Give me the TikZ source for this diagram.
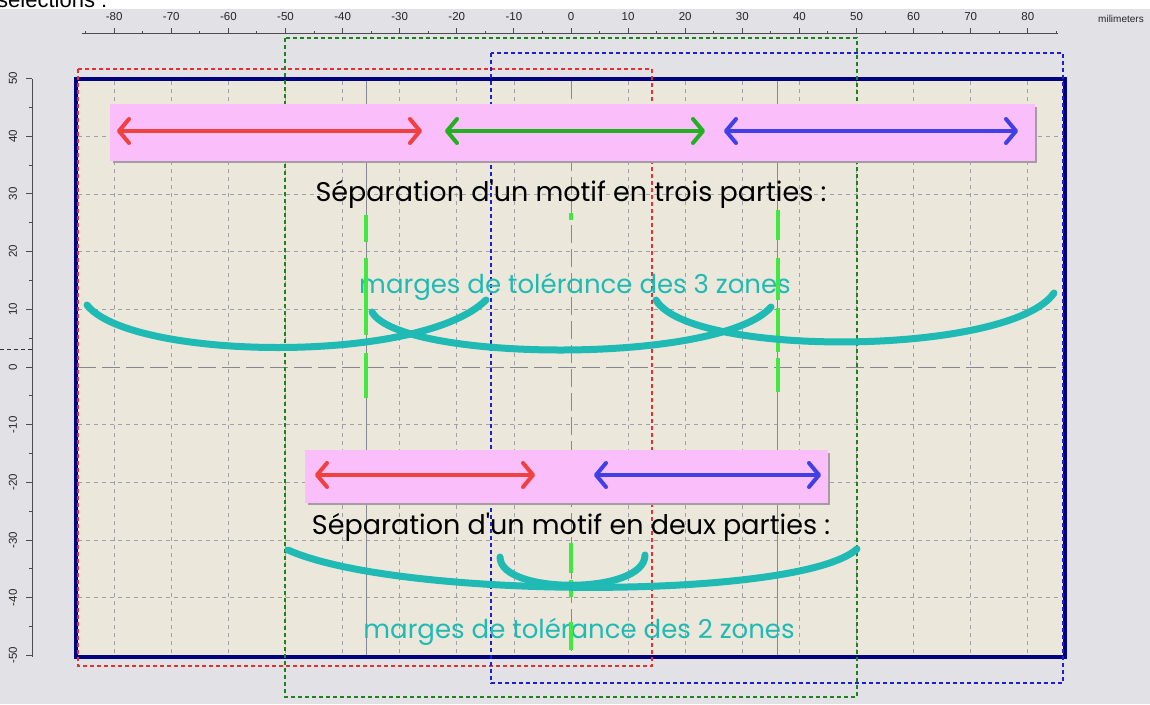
\documentclass[tikz,border=0pt]{standalone}
\usepackage{fontspec}
\setmainfont{Liberation Sans}
\newfontfamily\hand{Poppins}
\usetikzlibrary{arrows.meta}
\definecolor{bgout}{RGB}{225,225,230}
\definecolor{bgin}{RGB}{235,231,219}
\definecolor{navy}{RGB}{0,0,128}
\definecolor{pinkbar}{RGB}{250,190,250}
\definecolor{shadowc}{RGB}{165,155,165}
\definecolor{redarr}{RGB}{240,64,64}
\definecolor{greenarr}{RGB}{32,176,32}
\definecolor{bluearr}{RGB}{64,64,230}
\definecolor{tealc}{RGB}{32,186,180}
\definecolor{limec}{RGB}{64,232,64}
\definecolor{gridc}{RGB}{160,160,170}
\definecolor{selred}{RGB}{225,50,50}
\definecolor{selgreen}{RGB}{30,130,30}
\definecolor{selblue}{RGB}{30,30,210}
\tikzset{
  gridline/.style={gridc, line width=0.8pt, dash pattern=on 4pt off 4pt},
  axisline/.style={gridc!85!black, line width=0.9pt, dash pattern=on 18pt off 6pt},
  guideline/.style={gridc!85!black, line width=0.9pt},
  seldash/.style={line width=1.2pt, dash pattern=on 4pt off 3pt},
  arr/.style={line width=4pt, line cap=round,
    {Straight Barb[length=10pt,width=24pt,round]}-{Straight Barb[length=10pt,width=24pt,round]}},
  pinkbox/.style={fill=pinkbar, draw=none, inner sep=0pt},
  handtext/.style={font=\hand\fontsize{27}{29}\selectfont, inner sep=0pt},
  tealtext/.style={handtext, text=tealc, font=\hand\fontsize{26}{28}\selectfont},
  tealcurve/.style={tealc, line width=7pt, line cap=round},
  limedash/.style={limec, line width=4pt},
  rulerlbl/.style={font=\fontsize{11.5}{13}\selectfont, inner sep=0pt, text=black!85},
  tick/.style={black!70, line width=1pt}
}
\begin{document}
\begin{tikzpicture}[x=1pt,y=-1pt]
\useasboundingbox (0,0) rectangle (1150,704);
\clip (0,0) rectangle (1150,704);
\fill[bgout] (0,0) rectangle (1150,704);
\fill[white] (0,0) rectangle (1150,9);
\node[anchor=base west, font=\fontsize{22}{24}\selectfont, inner sep=0pt] (seltitle) at (-3,7) {sélections :};

% rulers
\draw[tick] (82,33.5) -- (1058,33.5);
\foreach \k in {-80,-70,...,80} {
  \draw[tick] ({571+5.71*\k},28) -- ({571+5.71*\k},33.5);
  \node[rulerlbl, name=rx\k] at ({571+5.71*\k},17) {\k};
}
\foreach \k in {-85,-75,...,85} {
  \draw[tick] ({571+5.71*\k},31) -- ({571+5.71*\k},33.5);
}
\node[rulerlbl, anchor=west, font=\fontsize{10}{12}\selectfont] (unit) at (1098,19) {milimeters};
\draw[tick] (32,79) -- (32,657);
\foreach \k in {-50,-40,...,50} {
  \draw[tick] (26,{367-5.77*\k}) -- (32,{367-5.77*\k});
  \node[rulerlbl, rotate=90, name=ry\k] at (13,{367-5.77*\k}) {\k};
}
\foreach \k in {-45,-35,...,45} {
  \draw[tick] (29,{367-5.77*\k}) -- (32,{367-5.77*\k});
}
\draw[black!80, line width=1pt, dash pattern=on 4pt off 3pt] (0,349) -- (32,349);

% working area
\fill[bgin] (76,79) rectangle (1065,657);
\foreach \k in {-80,-70,-60,-50,-40,-30,-20,-10,10,20,30,40,50,60,70,80} {
  \draw[gridline] ({571+5.71*\k},81) -- ({571+5.71*\k},655);
}
\foreach \k in {-40,-30,-20,-10,10,20,30,40} {
  \draw[gridline] (78,{367-5.77*\k}) -- (1063,{367-5.77*\k});
}
\draw[axisline] (571,81) -- (571,655);
\draw[axisline] (78,367) -- (1063,367);
\draw[guideline] (366,81) -- (366,655);
\draw[guideline] (777,81) -- (777,655);

\draw[navy, line width=4pt] (76,79) rectangle (1065,657);

% selections
\draw[selred, seldash] (78,69) rectangle (652,666);
\draw[selgreen, seldash] (285,38) rectangle (857,697);
\draw[selblue, seldash] (491,53) rectangle (1063,683);

% pink bars
\fill[shadowc] (113,107) rectangle (1037,163);
\node[pinkbox, minimum width=925pt, minimum height=57pt] (bar3) at (572.5,132.5) {};
\fill[shadowc] (308,453) rectangle (830,505);
\node[pinkbox, minimum width=523pt, minimum height=53pt] (bar2) at (566.5,476.5) {};

% arrows
\coordinate (r3a) at (117,131); \coordinate (r3b) at (422,131);
\coordinate (g3a) at (445,131); \coordinate (g3b) at (705,131);
\coordinate (b3a) at (724,131); \coordinate (b3b) at (1018,131);
\draw[arr, redarr] (r3a) -- (r3b);
\draw[arr, greenarr] (g3a) -- (g3b);
\draw[arr, bluearr] (b3a) -- (b3b);
\coordinate (r2a) at (315,475); \coordinate (r2b) at (535,475);
\coordinate (b2a) at (594,475); \coordinate (b2b) at (821,475);
\draw[arr, redarr] (r2a) -- (r2b);
\draw[arr, bluearr] (b2a) -- (b2b);

% texts
\node[handtext] (title3) at (571,194) {Séparation d'un motif en trois parties :};
\node[tealtext] (marg3) at (575,287) {marges de tolérance des 3 zones};
\node[handtext] (title2) at (571,527) {Séparation d'un motif en deux parties :};
\node[tealtext] (marg2) at (579,632) {marges de tolérance des 2 zones};

% green separators
\coordinate (gl1) at (366,215); \coordinate (gl2) at (366,398);
\draw[limedash, dash pattern=on 27pt off 16pt on 77pt off 18pt on 45pt] (gl1) -- (gl2);
\coordinate (gr1) at (778,210); \coordinate (gr2) at (778,392);
\draw[limedash, dash pattern=on 30pt off 18pt on 42pt off 8pt on 44pt off 6pt on 34pt] (gr1) -- (gr2);
\coordinate (gc1) at (571,213); \coordinate (gc2) at (571,220);
\draw[limedash] (gc1) -- (gc2);
\coordinate (gb1) at (571,543); \coordinate (gb2) at (571,650);
\draw[limedash, dash pattern=on 30pt off 7pt on 17pt off 25pt on 28pt] (gb1) -- (gb2);

% tolerance curves
\coordinate (c1a) at (87,305); \coordinate (c1b) at (486,300);
\draw[tealcurve] (c1a) .. controls (130,360) and (420,365) .. (c1b);
\coordinate (c2a) at (372,312); \coordinate (c2b) at (771,307);
\draw[tealcurve] (c2a) .. controls (400,362) and (720,365) .. (c2b);
\coordinate (c3a) at (656,300); \coordinate (c3b) at (1054,293);
\draw[tealcurve] (c3a) .. controls (690,358) and (1010,356) .. (c3b);
\coordinate (d1a) at (288,550); \coordinate (d1b) at (857,549);
\draw[tealcurve] (d1a) .. controls (400,600) and (800,600) .. (d1b);
\coordinate (d2a) at (500,557); \coordinate (d2b) at (645,555);
\draw[tealcurve] (d2a) .. controls (500,595) and (645,595) .. (d2b);
\end{tikzpicture}
\end{document}
